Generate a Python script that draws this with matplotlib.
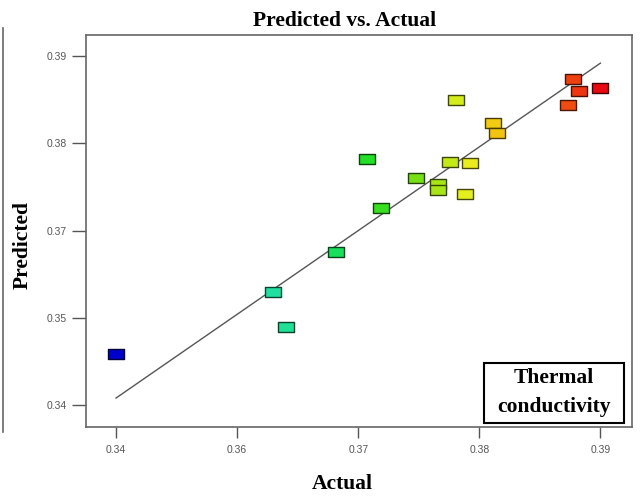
import numpy as np
import matplotlib
matplotlib.use('Agg')
import matplotlib.pyplot as plt
from matplotlib.path import Path
from matplotlib.patches import Rectangle
from matplotlib.lines import Line2D
from matplotlib.colors import LinearSegmentedColormap, to_rgb

plt.rcParams['font.family'] = ['Liberation Sans', 'DejaVu Sans']

# values (axis labels are not evenly spaced in value)
actual = [0.3400, 0.3630, 0.3640, 0.3682, 0.3719, 0.3707, 0.3748, 0.3766, 0.3766,
          0.3776, 0.3792, 0.3788, 0.3781, 0.3811, 0.3815, 0.3873, 0.3877, 0.3882, 0.3900]
predicted = [0.3458, 0.3559, 0.3489, 0.3652, 0.3726, 0.3782, 0.3760, 0.3753, 0.3747,
             0.3779, 0.3777, 0.3742, 0.3850, 0.3823, 0.3812, 0.3844, 0.3874, 0.3860, 0.3863]
fit_x = [0.340, 0.390]
fit_y = [0.3408, 0.3892]

x_ticks = [0.34, 0.36, 0.37, 0.38, 0.39]
x_ticklabels = ['0.34', '0.36', '0.37', '0.38', '0.39']
y_ticks = [0.34, 0.35, 0.37, 0.38, 0.39]
y_ticklabels = ['0.34', '0.35', '0.37', '0.38', '0.39']

title = 'Predicted vs. Actual'
xlabel = 'Actual'
ylabel = 'Predicted'
box_text = ['Thermal', 'conductivity']


def make_scale(ticks):
    # ticks sit at equal spacing on the drawn axis
    lab = [2 * ticks[0] - ticks[1]] + list(ticks) + [2 * ticks[-1] - ticks[-2]]
    pos = list(range(-1, len(ticks) + 1))
    fwd = lambda v: np.interp(v, lab, pos)
    inv = lambda p: np.interp(p, pos, lab)
    return fwd, inv, inv


fx, ix, _ = make_scale(x_ticks)
fy, iy, _ = make_scale(y_ticks)

W, H = 641, 499
fig = plt.figure(figsize=(W / 100, H / 100), dpi=100)
ax = fig.add_axes([86 / W, 1 - 427 / H, 546 / W, 392 / H])
ax.set_xscale('function', functions=(fx, ix))
ax.set_yscale('function', functions=(fy, iy))
ax.set_xlim(ix(-0.248), ix(4.261))
ax.set_ylim(iy(-0.252), iy(4.243))

cmap = LinearSegmentedColormap.from_list('de', [
    (0.0, '#0000CC'), (0.46, '#20E0A0'), (0.56, '#18E060'), (0.62, '#22E020'),
    (0.70, '#78E014'), (0.75, '#C0E818'), (0.78, '#E8F020'), (0.82, '#F2D012'),
    (0.95, '#F04A10'), (1.0, '#E80A10')])
norm_vals = (np.array(actual) - 0.34) / 0.05
fills = [cmap(v) for v in norm_vals]
edges = [tuple(np.array(to_rgb(c)) * 0.3) for c in fills]

ax.plot(fit_x, fit_y, color='#555555', lw=1.0, zorder=2)

rect = Path([(-0.8, -0.5), (0.8, -0.5), (0.8, 0.5), (-0.8, 0.5), (-0.8, -0.5)],
            [Path.MOVETO, Path.LINETO, Path.LINETO, Path.LINETO, Path.CLOSEPOLY])
ax.scatter(actual, predicted, marker=rect, s=11.5 ** 2, c=fills,
           edgecolors=edges, linewidths=1.0, zorder=3)

ax.set_xticks(x_ticks)
ax.set_xticklabels(x_ticklabels)
ax.set_yticks(y_ticks)
ax.set_yticklabels(y_ticklabels)
ax.minorticks_off()
ax.tick_params(axis='x', direction='out', length=8, width=1, color='#555555',
               labelsize=7.5, labelcolor='#555555', pad=5)
ax.tick_params(axis='y', direction='out', length=10, width=1, color='#555555',
               labelsize=7.5, labelcolor='#555555', pad=4)
for s in ax.spines.values():
    s.set_color('#666666')
    s.set_linewidth(1.2)

serif = ['Liberation Serif', 'DejaVu Serif']
fig.text(345 / W, 1 - 26 / H, title, family=serif, weight='bold', fontsize=15.5,
         ha='center', va='baseline')
fig.text(342 / W, 1 - 484 / H, xlabel, family=serif, weight='bold', fontsize=15.5,
         ha='center', va='center')
fig.text(23 / W, 1 - 245 / H, ylabel, family=serif, weight='bold', fontsize=15.5,
         ha='center', va='center', rotation=90)

fig.add_artist(Rectangle((484 / W, 1 - 423 / H), 140 / W, 60 / H, transform=fig.transFigure,
                         facecolor='white', edgecolor='black', lw=1.5, zorder=5))
fig.text(554 / W, 1 - 378 / H, box_text[0], family=serif, weight='bold', fontsize=15.5,
         ha='center', va='center', zorder=6)
fig.text(554 / W, 1 - 407 / H, box_text[1], family=serif, weight='bold', fontsize=15.5,
         ha='center', va='center', zorder=6)

# stray frame edge of the neighbouring panel
fig.add_artist(Line2D([3 / W, 3 / W], [1 - 28 / H, 1 - 432 / H], transform=fig.transFigure,
                      color='#666666', lw=1.2))

fig.savefig('out.png', dpi=100)
